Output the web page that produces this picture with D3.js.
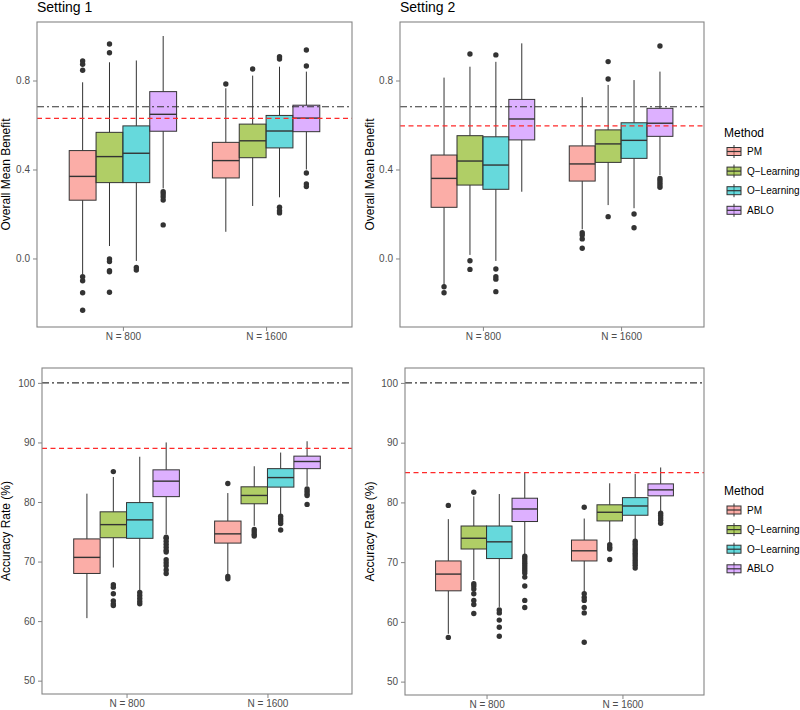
<!DOCTYPE html>
<html><head><meta charset="utf-8">
<script src="https://cdn.jsdelivr.net/npm/d3@7"></script>
<style>body{margin:0;background:#fff} text{font-family:"Liberation Sans",Arial,Helvetica,sans-serif}</style>
</head><body><svg id="c" width="800" height="710"></svg>
<script>
const sizes = ["N = 800", "N = 1600"];
const methods = ["PM", "Q\u2212Learning", "O\u2212Learning", "ABLO"];
const colors = ["#F8766D", "#7CAE00", "#00BFC4", "#C77CFF"];

// stats per method: [lowerWhisker, q1, median, q3, upperWhisker]
const s1BenefitN800 = [[-0.07,0.262,0.369,0.485,0.792],[0.056,0.341,0.458,0.567,0.882],[-0.011,0.341,0.473,0.596,0.89],[0.315,0.572,0.648,0.75,1.0]];
const s1BenefitN800Out = [[0.888,0.873,0.846,-0.082,-0.10,-0.154,-0.233],[0.964,0.925,-0.002,-0.014,-0.055,-0.06,-0.152],[-0.04,-0.052],[0.30,0.29,0.278,0.263,0.151]];
const s1BenefitN1600 = [[0.12,0.362,0.44,0.522,0.765],[0.236,0.453,0.529,0.604,0.822],[0.275,0.497,0.573,0.643,0.862],[0.40,0.57,0.631,0.689,0.84]];
const s1BenefitN1600Out = [[0.784],[0.852],[0.907,0.897,0.23,0.215,0.205],[0.937,0.865,0.384,0.335,0.323]];

const s2BenefitN800 = [[-0.119,0.23,0.36,0.465,0.813],[0.016,0.33,0.438,0.552,0.862],[-0.011,0.311,0.42,0.547,0.884],[0.30,0.533,0.627,0.715,0.967]];
const s2BenefitN800Out = [[-0.127,-0.154],[0.919,-0.01,-0.049],[0.915,-0.047,-0.082,-0.093,-0.149],[]];
const s2BenefitN1600 = [[0.131,0.348,0.425,0.506,0.725],[0.24,0.432,0.515,0.578,0.78],[0.226,0.45,0.531,0.61,0.802],[0.375,0.549,0.608,0.675,0.84]];
const s2BenefitN1600Out = [[0.116,0.106,0.088,0.046],[0.807,0.885,0.188],[0.2,0.138],[0.955,0.36,0.35,0.34,0.33,0.32]];

const s1AccN800 = [[60.5,68.0,70.7,73.8,81.4],[69.0,74.0,76.2,78.35,84.2],[65.1,73.9,77.0,79.9,87.6],[74.6,80.9,83.5,85.4,90.0]];
const s1AccN800Out = [[],[85.1,66.1,65.7,64.6,63.4,62.9,62.6],[64.8,64.3,63.8,63.3,62.9],[74.1,73.9,73.4,72.9,72.4,71.9,71.6,70.3,69.8,69.3,68.6,68.0]];
const s1AccN1600 = [[67.9,73.1,74.65,76.8,81.5],[76.0,79.7,81.1,82.55,86.0],[78.0,82.5,84.1,85.6,88.3],[82.7,85.6,86.8,87.7,90.2]];
const s1AccN1600Out = [[83.1,67.5,67.1],[75.4,75.0,74.6,74.3],[77.6,77.2,76.8,76.4,75.3],[82.2,81.8,81.4,81.1,79.6]];

const s2AccN800 = [[58.0,65.2,68.0,70.2,77.2],[67.0,72.2,74.0,76.05,81.0],[62.5,70.6,73.4,76.05,81.4],[71.3,76.8,78.9,80.7,85.0]];
const s2AccN800Out = [[79.5,57.4],[81.7,66.4,66.0,65.5,64.7,63.6,62.9,61.4],[62.0,61.5,60.3,59.1,57.6],[71.0,70.6,70.2,69.8,69.4,69.0,68.6,68.2,67.5,66.0,63.6,62.4]];
const s2AccN1600 = [[65.0,70.2,71.9,73.7,77.3],[73.2,76.9,78.35,79.6,83.2],[73.8,77.85,79.4,80.8,84.75],[78.5,81.1,82.1,83.1,85.85]];
const s2AccN1600Out = [[79.2,64.7,64.1,63.6,62.4,61.5,56.6],[72.9,72.5,72.2,70.45],[73.5,73.1,72.7,72.3,71.9,71.5,71.1,70.7,70.3,69.9,69.5,69.0],[78.2,77.8,77.4,77.0,76.5]];

const benefitTicks = [0.0, 0.4, 0.8];
const accTicks = [50, 60, 70, 80, 90, 100];
// reference lines: [black dot-dash, red dashed]
const refS1Benefit = [0.682, 0.630];
const refS2Benefit = [0.682, 0.596];
const refS1Acc = [100, 89];
const refS2Acc = [100, 85];

const panels = [
  {title:"Setting 1", stats:[s1BenefitN800,s1BenefitN1600], outs:[s1BenefitN800Out,s1BenefitN1600Out], ref:refS1Benefit,
   l:37, r:352, t:22, b:327, dom:[-0.308,1.063], ticks:benefitTicks, fmt:d3.format(".1f"), ytitle:"Overall Mean Benefit", ytx:10},
  {title:"Setting 2", stats:[s2BenefitN800,s2BenefitN1600], outs:[s2BenefitN800Out,s2BenefitN1600Out], ref:refS2Benefit,
   l:400, r:704, t:22, b:327, dom:[-0.308,1.063], ticks:benefitTicks, fmt:d3.format(".1f"), ytitle:"Overall Mean Benefit", ytx:374},
  {title:null, stats:[s1AccN800,s1AccN1600], outs:[s1AccN800Out,s1AccN1600Out], ref:refS1Acc,
   l:42, r:352, t:368, b:694, dom:[47.76,102.5], ticks:accTicks, fmt:d3.format("d"), ytitle:"Accuracy Rate (%)", ytx:10},
  {title:null, stats:[s2AccN800,s2AccN1600], outs:[s2AccN800Out,s2AccN1600Out], ref:refS2Acc,
   l:405, r:704, t:368, b:695, dom:[47.76,102.5], ticks:accTicks, fmt:d3.format("d"), ytitle:"Accuracy Rate (%)", ytx:374}
];

const svg = d3.select("#c");
const gray = "#858585";
const dark = "#333333";

panels.forEach(p => {
  const g = svg.append("g");
  const y = d3.scaleLinear().domain(p.dom).range([p.b, p.t]);
  const x = d3.scalePoint().domain(sizes).range([p.l, p.r]).padding(0.6);
  const step = x.step();
  const dodge = d3.scaleBand().domain(methods).range([-0.375*step, 0.375*step]).padding(0);
  const bw = dodge.bandwidth();

  sizes.forEach((sz, si) => {
    methods.forEach((m, mi) => {
      const s = p.stats[si][mi];
      const cx = x(sz) + dodge(m) + bw/2;
      const bg = g.append("g");
      bg.append("line").attr("x1", cx).attr("x2", cx).attr("y1", y(s[0])).attr("y2", y(s[1]))
        .attr("stroke", dark).attr("stroke-width", 1);
      bg.append("line").attr("x1", cx).attr("x2", cx).attr("y1", y(s[3])).attr("y2", y(s[4]))
        .attr("stroke", dark).attr("stroke-width", 1);
      bg.append("rect").attr("x", cx - bw/2).attr("width", bw).attr("y", y(s[3])).attr("height", y(s[1]) - y(s[3]))
        .attr("fill", colors[mi]).attr("fill-opacity", 0.6).attr("stroke", dark).attr("stroke-width", 1);
      bg.append("line").attr("x1", cx - bw/2).attr("x2", cx + bw/2).attr("y1", y(s[2])).attr("y2", y(s[2]))
        .attr("stroke", dark).attr("stroke-width", 1.4);
      bg.selectAll("circle").data(p.outs[si][mi]).join("circle")
        .attr("cx", cx).attr("cy", d => y(d)).attr("r", 2.7).attr("fill", dark);
    });
  });

  // reference lines (drawn over the boxes)
  g.append("line").attr("x1", p.l).attr("x2", p.r).attr("y1", y(p.ref[0])).attr("y2", y(p.ref[0]))
    .attr("stroke", "#333").attr("stroke-width", 1.2).attr("stroke-dasharray", "7,3,2,3");
  g.append("line").attr("x1", p.l).attr("x2", p.r).attr("y1", y(p.ref[1])).attr("y2", y(p.ref[1]))
    .attr("stroke", "#FF2A2A").attr("stroke-width", 1.2).attr("stroke-dasharray", "5,3.5");

  // border
  g.append("rect").attr("x", p.l).attr("y", p.t).attr("width", p.r - p.l).attr("height", p.b - p.t)
    .attr("fill", "none").attr("stroke", gray).attr("stroke-width", 1.1);

  const ya = g.append("g").attr("transform", `translate(${p.l},0)`)
    .call(d3.axisLeft(y).tickValues(p.ticks).tickFormat(p.fmt).tickSize(4).tickPadding(3));
  const xa = g.append("g").attr("transform", `translate(0,${p.b})`)
    .call(d3.axisBottom(x).tickSize(4).tickPadding(2));
  [ya, xa].forEach(a => {
    a.select(".domain").remove();
    a.selectAll(".tick line").attr("stroke", gray);
    a.selectAll(".tick text").attr("fill", "#4d4d4d").style("font-size", "10px").style("font-family", '"Liberation Sans",Arial,sans-serif');
  });

  g.append("text").attr("transform", `translate(${p.ytx},${(p.t + p.b)/2}) rotate(-90)`)
    .attr("text-anchor", "middle").style("font-size", "12px").attr("fill", "#000").text(p.ytitle);
  if (p.title) {
    g.append("text").attr("x", p.l).attr("y", 12).style("font-size", "14px").attr("fill", "#000").text(p.title);
  }
});

// legends
[{ty:137, ky:151.5}, {ty:495, ky:510}].forEach(L => {
  const lg = svg.append("g");
  lg.append("text").attr("x", 724).attr("y", L.ty).style("font-size", "12px").text("Method");
  methods.forEach((m, i) => {
    const cy = L.ky + i * 19.6;
    const kx = 734;
    lg.append("line").attr("x1", kx).attr("x2", kx).attr("y1", cy - 6.5).attr("y2", cy + 6.5)
      .attr("stroke", dark).attr("stroke-width", 1);
    lg.append("rect").attr("x", kx - 7).attr("y", cy - 4).attr("width", 14).attr("height", 8)
      .attr("fill", colors[i]).attr("fill-opacity", 0.6).attr("stroke", dark).attr("stroke-width", 1);
    lg.append("line").attr("x1", kx - 7).attr("x2", kx + 7).attr("y1", cy).attr("y2", cy)
      .attr("stroke", dark).attr("stroke-width", 1.2);
    lg.append("text").attr("x", 747).attr("y", cy + 3.5).style("font-size", "10px").attr("fill", "#000").text(m);
  });
});
</script></body></html>
